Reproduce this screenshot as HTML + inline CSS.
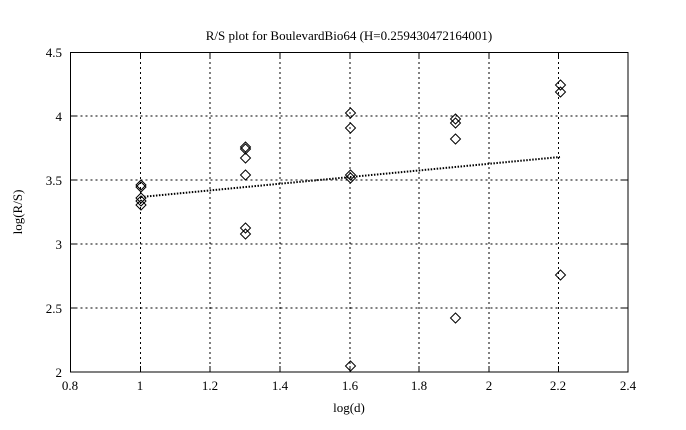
<!DOCTYPE html>
<html><head><style>body{margin:0;background:#fff}svg{display:block}</style></head><body>
<svg width="686" height="430" xmlns="http://www.w3.org/2000/svg" font-family="Liberation Serif, serif" font-size="13">
<rect width="686" height="430" fill="#fff"/>
<g stroke="#000" stroke-width="1" stroke-dasharray="2,3">
<line x1="140.5" y1="52" x2="140.5" y2="372"/><line x1="210" y1="52" x2="210" y2="372"/>
<line x1="280" y1="52" x2="280" y2="372"/><line x1="350" y1="52" x2="350" y2="372"/>
<line x1="419" y1="52" x2="419" y2="372"/><line x1="489" y1="52" x2="489" y2="372"/>
<line x1="558.5" y1="52" x2="558.5" y2="372"/>
<line x1="70.5" y1="116" x2="628" y2="116"/><line x1="70.5" y1="180" x2="628" y2="180"/>
<line x1="70.5" y1="244" x2="628" y2="244"/><line x1="70.5" y1="308" x2="628" y2="308"/>
</g>
<g stroke="#000" stroke-width="1">
<path d="M140.5,372v-6M210,372v-6M280,372v-6M350,372v-6M419,372v-6M489,372v-6M558.5,372v-6M140.5,52v6M210,52v6M280,52v6M350,52v6M419,52v6M489,52v6M558.5,52v6M70.5,116h6M70.5,180h6M70.5,244h6M70.5,308h6M628,116h-6M628,180h-6M628,244h-6M628,308h-6"/>
</g>
<rect x="70.5" y="52.5" width="557.5" height="319.5" fill="none" stroke="#000"/>
<g font-size="13" text-anchor="middle">
<text x="70" y="390">0.8</text><text x="140" y="390">1</text><text x="210" y="390">1.2</text><text x="280" y="390">1.4</text><text x="350" y="390">1.6</text><text x="419" y="390">1.8</text><text x="489" y="390">2</text><text x="558" y="390">2.2</text><text x="628" y="390">2.4</text>
</g>
<g font-size="13" text-anchor="end">
<text x="62" y="57">4.5</text><text x="62" y="121">4</text><text x="62" y="185">3.5</text><text x="62" y="249">3</text><text x="62" y="313">2.5</text><text x="62" y="377">2</text>
</g>
<text x="349" y="40" text-anchor="middle">R/S plot for BoulevardBio64 (H=0.259430472164001)</text>
<text x="349" y="412" text-anchor="middle">log(d)</text>
<text transform="translate(22,212) rotate(-90)" text-anchor="middle">log(R/S)</text>
<line x1="141" y1="197" x2="560" y2="157" stroke="#000" stroke-width="2" stroke-dasharray="1.5,1.5"/>
<g fill="none" stroke="#000" stroke-width="1">
<path d="M0,-5 L5,0 L0,5 L-5,0Z" transform="translate(141,185)"/>
<path d="M0,-5 L5,0 L0,5 L-5,0Z" transform="translate(141,187)"/>
<path d="M0,-5 L5,0 L0,5 L-5,0Z" transform="translate(141,198)"/>
<path d="M0,-5 L5,0 L0,5 L-5,0Z" transform="translate(141,201)"/>
<path d="M0,-5 L5,0 L0,5 L-5,0Z" transform="translate(141,205)"/>
<path d="M0,-5 L5,0 L0,5 L-5,0Z" transform="translate(245.5,147)"/>
<path d="M0,-5 L5,0 L0,5 L-5,0Z" transform="translate(245.5,149)"/>
<path d="M0,-5 L5,0 L0,5 L-5,0Z" transform="translate(245.5,158)"/>
<path d="M0,-5 L5,0 L0,5 L-5,0Z" transform="translate(245.5,175)"/>
<path d="M0,-5 L5,0 L0,5 L-5,0Z" transform="translate(245.5,228)"/>
<path d="M0,-5 L5,0 L0,5 L-5,0Z" transform="translate(245.5,234)"/>
<path d="M0,-5 L5,0 L0,5 L-5,0Z" transform="translate(350.5,113)"/>
<path d="M0,-5 L5,0 L0,5 L-5,0Z" transform="translate(350.5,128)"/>
<path d="M0,-5 L5,0 L0,5 L-5,0Z" transform="translate(350.5,175)"/>
<path d="M0,-5 L5,0 L0,5 L-5,0Z" transform="translate(350.5,178)"/>
<path d="M0,-5 L5,0 L0,5 L-5,0Z" transform="translate(350.5,366)"/>
<path d="M0,-5 L5,0 L0,5 L-5,0Z" transform="translate(455.5,119)"/>
<path d="M0,-5 L5,0 L0,5 L-5,0Z" transform="translate(455.5,123)"/>
<path d="M0,-5 L5,0 L0,5 L-5,0Z" transform="translate(455.5,139)"/>
<path d="M0,-5 L5,0 L0,5 L-5,0Z" transform="translate(455.5,318)"/>
<path d="M0,-5 L5,0 L0,5 L-5,0Z" transform="translate(560.5,85)"/>
<path d="M0,-5 L5,0 L0,5 L-5,0Z" transform="translate(560.5,92)"/>
<path d="M0,-5 L5,0 L0,5 L-5,0Z" transform="translate(560.5,275)"/>
</g>
</svg>
</body></html>
